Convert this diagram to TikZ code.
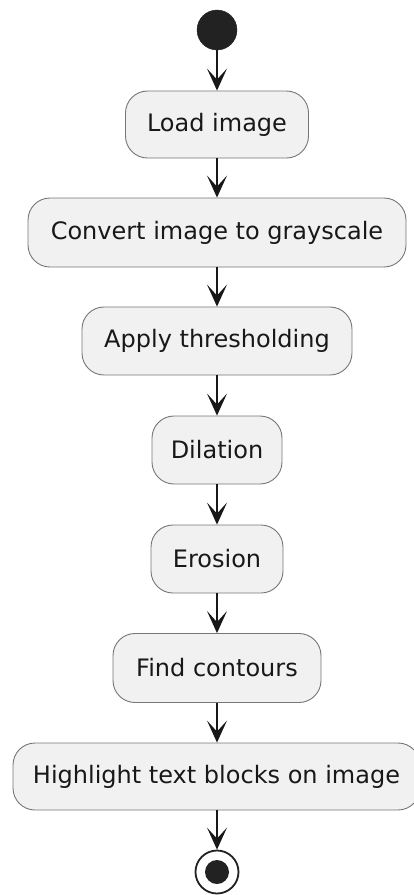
\documentclass[tikz,border=0pt]{standalone}
\usepackage{fontspec}
\setmainfont{DejaVu Sans}
\usetikzlibrary{arrows.meta}
\definecolor{boxfill}{HTML}{F1F1F1}
\definecolor{ink}{HTML}{181818}
\definecolor{dotc}{HTML}{222222}
\definecolor{edgec}{HTML}{767676}
\tikzset{
  actbox/.style={draw=edgec, line width=0.9pt, fill=boxfill, rounded corners=22pt,
    inner sep=0pt, minimum height=68pt, text=ink,
    font=\fontsize{24}{28}\selectfont},
  flow/.style={draw=ink, line width=1.8pt,
    -{Stealth[length=22pt, width=20pt, inset=11pt]}},
  startdot/.style={circle, fill=dotc, draw=dotc, inner sep=0pt, minimum size=40pt},
  endring/.style={circle, fill=white, draw=dotc, line width=1.8pt, inner sep=0pt, minimum size=43pt},
  enddot/.style={circle, fill=dotc, inner sep=0pt, minimum size=24pt}
}
\begin{document}
\begin{tikzpicture}[x=1pt, y=-1pt]
\useasboundingbox (0,0) rectangle (413,895);
\node[startdot] (start) at (217,30) {};
\node[actbox, minimum width=183pt, minimum height=67pt] (load) at (217,124.5) {Load image};
\node[actbox, minimum width=378pt, minimum height=69pt] (gray) at (217,232.5) {Convert image to grayscale};
\node[actbox, minimum width=270pt] (thr) at (217,341) {Apply thresholding};
\node[actbox, minimum width=130pt] (dil) at (217,450) {Dilation};
\node[actbox, minimum width=132pt] (ero) at (217,559) {Erosion};
\node[actbox, minimum width=208pt, minimum height=69pt] (cont) at (217,668) {Find contours};
\node[actbox, minimum width=407pt, minimum height=67pt] (hl) at (216.5,776.5) {Highlight text blocks on image};
\node[endring] (stop) at (217,872) {};
\node[enddot] (stopdot) at (stop.center) {};
\draw[flow] (start) -- (load);
\draw[flow] (load) -- (gray);
\draw[flow] (gray) -- (thr);
\draw[flow] (thr) -- (dil);
\draw[flow] (dil) -- (ero);
\draw[flow] (ero) -- (cont);
\draw[flow] (cont.south) -- (cont.south |- hl.north);
\draw[flow] (stop.north |- hl.south) -- (stop);
\end{tikzpicture}
\end{document}
